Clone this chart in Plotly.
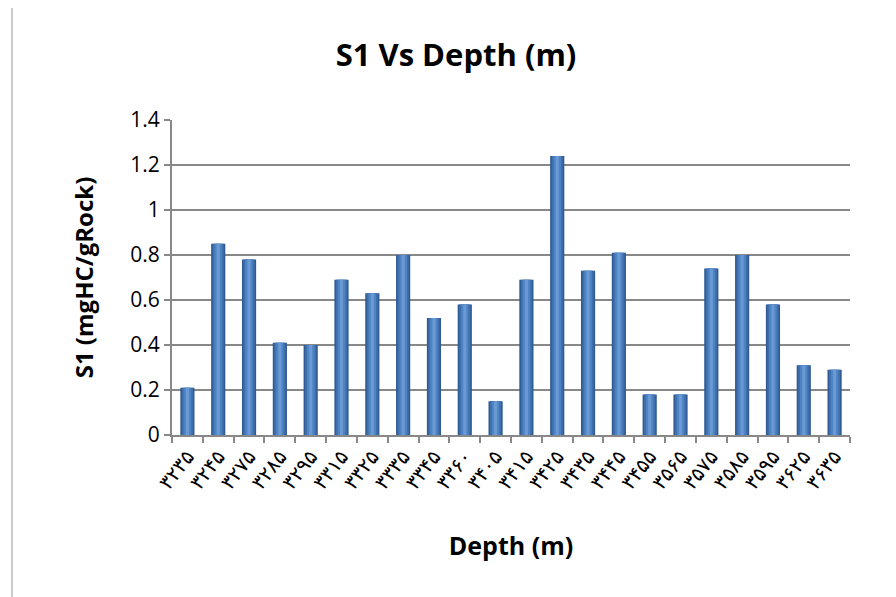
import plotly.graph_objects as go

depths = ["۳۲۳۵", "۳۲۴۵", "۳۲۷۵", "۳۲۸۵", "۳۲۹۵", "۳۳۱۵", "۳۳۲۵", "۳۳۳۵",
          "۳۳۴۵", "۳۳۶۰", "۳۴۰۵", "۳۴۱۵", "۳۴۲۵", "۳۴۳۵", "۳۴۴۵", "۳۴۵۵",
          "۳۵۶۵", "۳۵۷۵", "۳۵۸۵", "۳۵۹۵", "۳۶۲۵", "۳۶۳۵"]
s1 = [0.21, 0.85, 0.78, 0.41, 0.40, 0.69, 0.63, 0.80, 0.52, 0.58, 0.15,
      0.69, 1.24, 0.73, 0.81, 0.18, 0.18, 0.74, 0.80, 0.58, 0.31, 0.29]
y_ticks = [0, 0.2, 0.4, 0.6, 0.8, 1.0, 1.2, 1.4]
y_tick_text = ["0", "0.2", "0.4", "0.6", "0.8", "1", "1.2", "1.4"]

fig = go.Figure()
# cylinder-like shading: overlaid bars of decreasing width
for w, c in [(0.46, "#2f5b93"), (0.36, "#3f70ad"), (0.24, "#4f84c4"), (0.10, "#6a9ad4")]:
    fig.add_trace(go.Bar(x=depths, y=s1, width=w, marker=dict(color=c, line=dict(width=0)),
                         showlegend=False, hoverinfo="x+y"))

fig.update_layout(
    width=896, height=597,
    barmode="overlay",
    paper_bgcolor="white", plot_bgcolor="white",
    margin=dict(l=164, r=54, t=112, b=170),
    title=dict(text="<b>S1 Vs Depth (m)</b>", x=0.5, xanchor="center", y=0.921, yanchor="middle",
               font=dict(family="Open Sans", size=31, color="black")),
    font=dict(family="Open Sans", color="black"),
)
fig.update_xaxes(
    type="category", tickangle=-52, tickson="boundaries",
    ticks="outside", ticklen=6, tickcolor="#888888", tickwidth=2,
    showline=True, linecolor="#888888", linewidth=2,
    showgrid=False,
    tickfont=dict(family="DejaVu Sans", size=20, color="black"),
    title=dict(text="<b>Depth (m)</b>", font=dict(family="Open Sans", size=25, color="black"), standoff=44),
)
fig.update_yaxes(
    range=[0, 1.4], tickvals=y_ticks, ticktext=y_tick_text,
    ticks="outside", ticklen=6, tickcolor="#888888", tickwidth=2,
    showline=True, linecolor="#888888", linewidth=2,
    showgrid=True, gridcolor="#888888", gridwidth=2,
    zeroline=False,
    tickfont=dict(family="Open Sans", size=21, color="black"),
    title=dict(text="<b>S1 (mgHC/gRock)</b>", font=dict(family="Open Sans", size=24, color="black"), standoff=30),
)
# chart frame
fig.add_shape(type="rect", xref="paper", yref="paper", x0=-0.236, x1=1.06, y0=-0.56, y1=1.36,
              line=dict(color="#999999", width=1), fillcolor="rgba(0,0,0,0)", layer="below")

fig.write_html("out.html")
